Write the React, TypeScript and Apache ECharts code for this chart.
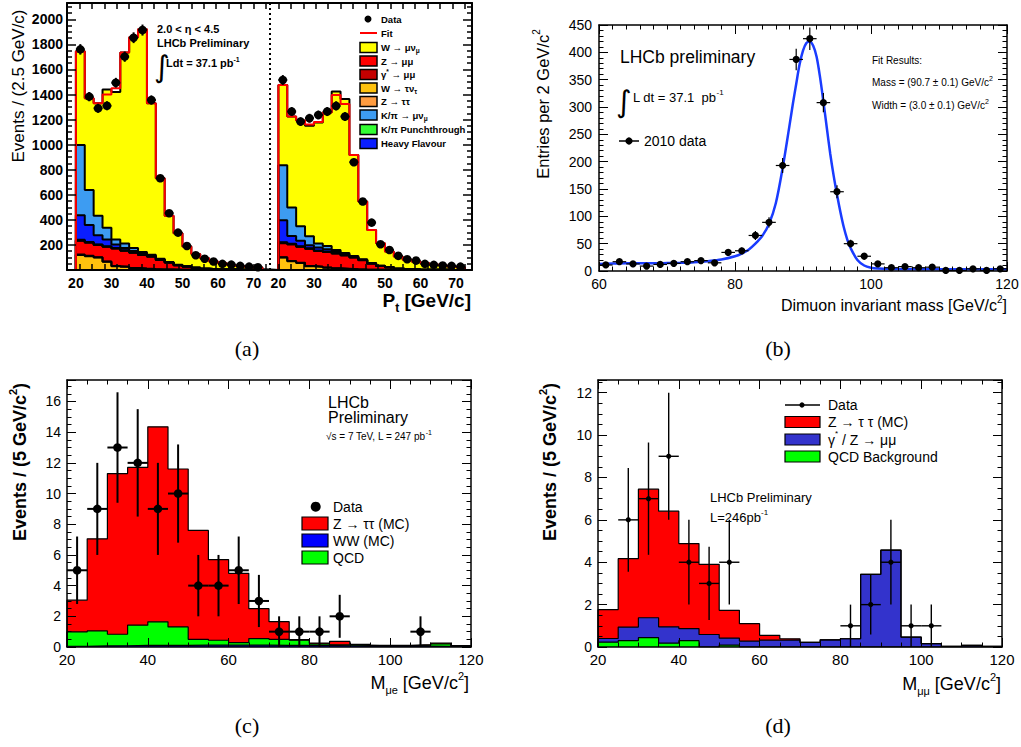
import React, { useEffect, useRef } from "react";
import * as echarts from "echarts";

const SANS = "'Liberation Sans', Arial, Helvetica, sans-serif";
const SERIF = "'Liberation Serif', 'Times New Roman', serif";

// ---------------- Panel (a): muon Pt, two eta halves ----------------
const aBinLow = [20, 22.5, 25, 27.5, 30, 32.5, 35, 37.5, 40, 42.5, 45, 47.5, 50, 52.5, 55, 57.5, 60, 62.5, 65, 67.5, 70];
const aBinWidth = 2.5;
const aRightOffset = 57;
const aTickLabels = [20, 30, 40, 50, 60, 70];

const aLeftWtaunu = [120, 110, 100, 65, 30, 25, 15, 10, 6, 4, 3, 2, 1, 1, 0, 0, 0, 0, 0, 0, 0];
const aLeftZtautau = [3, 3, 2, 2, 2, 1, 1, 1, 1, 0, 0, 0, 0, 0, 0, 0, 0, 0, 0, 0, 0];
const aLeftZmumu = [110, 105, 98, 118, 140, 128, 122, 108, 100, 76, 56, 36, 26, 16, 9, 6, 4, 3, 2, 1, 1];
const aLeftGamma = [3, 3, 2, 2, 2, 2, 1, 1, 1, 1, 0, 0, 0, 0, 0, 0, 0, 0, 0, 0, 0];
const aLeftPunch = [6, 2, 1, 1, 0, 0, 0, 0, 0, 0, 0, 0, 0, 0, 0, 0, 0, 0, 0, 0, 0];
const aLeftHeavy = [195, 135, 75, 55, 30, 20, 12, 8, 5, 3, 2, 1, 1, 0, 0, 0, 0, 0, 0, 0, 0];
const aLeftKpi = [560, 280, 155, 95, 40, 35, 25, 15, 8, 5, 3, 2, 1, 1, 0, 0, 0, 0, 0, 0, 0];
const aLeftTotal = [1745, 1370, 1330, 1440, 1420, 1735, 1856, 1920, 1330, 732, 432, 293, 187, 128, 93, 67, 53, 40, 32, 25, 19];
const aLeftFit = [1745, 1370, 1330, 1400, 1450, 1735, 1856, 1920, 1330, 732, 432, 293, 187, 128, 93, 67, 53, 40, 32, 25, 19];
const aLeftData = [1760, 1383, 1290, 1310, 1494, 1702, 1853, 1914, 1356, 732, 453, 298, 192, 118, 90, 68, 49, 43, 33, 27, 22];
const aLeftErr = [42, 37, 36, 36, 39, 41, 43, 44, 37, 27, 21, 17, 14, 11, 9, 8, 7, 7, 6, 5, 5];

const aRightWtaunu = [100, 70, 55, 30, 25, 18, 12, 8, 5, 3, 2, 1, 1, 0, 0, 0, 0, 0, 0, 0, 0];
const aRightZtautau = [2, 2, 2, 1, 1, 1, 1, 1, 0, 0, 0, 0, 0, 0, 0, 0, 0, 0, 0, 0, 0];
const aRightZmumu = [112, 132, 128, 138, 126, 125, 118, 108, 95, 75, 50, 31, 20, 10, 5, 3, 2, 1, 1, 0, 0];
const aRightGamma = [3, 3, 2, 2, 2, 2, 2, 1, 1, 1, 0, 0, 0, 0, 0, 0, 0, 0, 0, 0, 0];
const aRightPunch = [5, 2, 1, 1, 0, 0, 0, 0, 0, 0, 0, 0, 0, 0, 0, 0, 0, 0, 0, 0, 0];
const aRightHeavy = [175, 62, 45, 25, 25, 20, 12, 8, 5, 3, 2, 1, 1, 0, 0, 0, 0, 0, 0, 0, 0];
const aRightKpi = [438, 228, 116, 72, 32, 25, 15, 10, 6, 4, 2, 1, 1, 0, 0, 0, 0, 0, 0, 0, 0];
const aRightTotal = [1476, 1224, 1192, 1150, 1176, 1256, 1423, 1365, 918, 546, 320, 213, 148, 108, 81, 68, 54, 41, 36, 28, 22];
const aRightFit = [1476, 1224, 1192, 1160, 1180, 1256, 1397, 1325, 918, 546, 320, 213, 148, 108, 81, 68, 54, 41, 36, 28, 22];
const aRightData = [1516, 1264, 1184, 1211, 1237, 1264, 1309, 1224, 860, 546, 378, 206, 160, 113, 86, 75, 49, 41, 36, 33, 27];
const aRightErr = [39, 36, 34, 35, 35, 36, 36, 35, 29, 23, 19, 14, 13, 11, 9, 9, 7, 6, 6, 6, 5];

const aLegendLabels = [
  "{n|W → μν}{sub|μ}",
  "{n|Z → μμ}",
  "{n|γ}{sup|*}{n| → μμ}",
  "{n|W → τν}{sub|τ}",
  "{n|Z → ττ}",
  "{n|K/π → μν}{sub|μ}",
  "{n|K/π Punchthrough}",
  "{n|Heavy Flavour}",
];
const aColors = {
  wmunu: "#ffff00",
  zmumu: "#ff0000",
  gamma: "#c40000",
  wtaunu: "#ffc20e",
  ztautau: "#ff9c40",
  kpi: "#3d9cf2",
  punch: "#33ff33",
  heavy: "#0a1eff",
};

// ---------------- Panel (b): dimuon mass ----------------
const bMass = [61, 63, 65, 67, 69, 71, 73, 75, 77, 79, 81, 83, 85, 87, 89, 91, 93, 95, 97, 99, 101, 103, 105, 107, 109, 111, 113, 115, 117, 119];
const bCounts = [11, 17, 13, 9, 12, 14, 17, 19, 15, 34, 37, 65, 89, 193, 387, 425, 308, 145, 50, 27, 13, 6, 8, 6, 7, 1, 1, 4, 1, 4];
const bErr = [3.3, 4.1, 3.6, 3, 3.5, 3.7, 4.1, 4.4, 3.9, 5.8, 6.1, 8.1, 9.4, 13.9, 19.7, 20.6, 17.5, 12, 7.1, 5.2, 3.6, 2.4, 2.8, 2.4, 2.6, 1, 1, 2, 1, 2];
const bFitMass = [60, 62, 64, 66, 68, 70, 72, 74, 76, 78, 80, 81, 82, 83, 84, 85, 86, 87, 88, 88.5, 89, 89.5, 90, 90.5, 91, 91.5, 92, 92.5, 93, 93.5, 94, 94.5, 95, 95.5, 96, 96.5, 97, 98, 99, 100, 101, 103, 106, 110, 115, 120];
const bFitVal = [13, 13.5, 14, 14, 14, 14.5, 15, 16, 18, 21, 27, 32, 39, 50, 64, 86, 124, 188, 265, 305, 342, 378, 403, 417, 420, 412, 392, 355, 310, 262, 215, 175, 140, 108, 80, 58, 42, 20, 10, 6, 4.5, 3.5, 3, 3, 3, 3];

// ---------------- Panel (c): M(mu e) ----------------
const cdBinLow = [20, 25, 30, 35, 40, 45, 50, 55, 60, 65, 70, 75, 80, 85, 90, 95, 100, 105, 110, 115];
const cdBinWidth = 5;
const cWW = [0.05, 0.07, 0.08, 0.1, 0.1, 0.1, 0.12, 0.12, 0.12, 0.12, 0.1, 0.1, 0.1, 0.08, 0.06, 0.06, 0.06, 0.06, 0.05, 0.05];
const cQCD = [0.93, 0.98, 0.75, 1.32, 1.54, 1.21, 0.38, 0.32, 0.17, 0.43, 0.4, 0.34, 0.1, 0.06, 0.05, 0.02, 0.02, 0.06, 0.16, 0.02];
const cZtt = [2.07, 6.0, 10.47, 10.28, 12.71, 10.29, 7.1, 5.26, 4.51, 1.95, 1.15, 0.04, 0.06, 0.23, 0.06, 0.03, 0.03, 0.03, 0.05, 0.02];
const cDataX = [22.5, 27.5, 32.5, 37.5, 42.5, 47.5, 52.5, 57.5, 62.5, 67.5, 72.5, 77.5, 82.5, 87.5, 107.5];
const cData = [5, 9, 13, 12, 9, 10, 4, 4, 5, 3, 1, 1, 1, 2, 1];
const cErr = [2.2, 3, 3.6, 3.5, 3, 3.2, 2, 2, 2.2, 1.7, 1, 1, 1, 1.4, 1];

// ---------------- Panel (d): M(mu mu) ----------------
const dQCD = [0.23, 0.3, 0.44, 0.18, 0.3, 0, 0.09, 0, 0, 0, 0, 0, 0, 0, 0, 0, 0, 0, 0, 0];
const dZmm = [0.17, 0.64, 0.94, 0.77, 0.57, 0.59, 0.33, 0.28, 0.32, 0.34, 0.22, 0.34, 0.39, 3.43, 4.57, 0.47, 0.16, 0.03, 0.08, 0.03];
const dZtt = [1.36, 3.23, 6.07, 5.46, 4.01, 3.31, 1.31, 0.82, 0.23, 0.05, 0, 0, 0, 0, 0, 0, 0, 0, 0, 0];
const dDataX = [27.5, 32.5, 37.5, 42.5, 47.5, 52.5, 82.5, 87.5, 92.5, 97.5, 102.5];
const dData = [6, 7, 9, 4, 3, 4, 1, 2, 4, 1, 1];
const dErr = [2.45, 2.65, 3, 2, 1.73, 2, 1, 1.41, 2, 1, 1];

// ---------------- helpers ----------------
function cum(...arrs: number[][]): number[] {
  return arrs[0].map((_, i) => arrs.reduce((s, a) => s + a[i], 0));
}

function aSteps(left: number[], right: number[]): number[][] {
  const lastL = aBinLow[aBinLow.length - 1] + aBinWidth;
  return [
    [aBinLow[0], 0],
    ...aBinLow.map((x, i) => [x, left[i]]),
    [lastL, 0],
    [aBinLow[0] + aRightOffset, 0],
    ...aBinLow.map((x, i) => [x + aRightOffset, right[i]]),
    [lastL + aRightOffset, 0],
  ];
}

function cdSteps(vals: number[]): number[][] {
  return [
    [cdBinLow[0], 0],
    ...cdBinLow.map((x, i) => [x, vals[i]]),
    [cdBinLow[cdBinLow.length - 1] + cdBinWidth, 0],
  ];
}

function histLine(xi: number, data: number[][], color: string, lw: number) {
  return {
    type: "line",
    xAxisIndex: xi,
    yAxisIndex: xi,
    data,
    step: "end",
    symbol: "none",
    showSymbol: false,
    silent: true,
    z: 2,
    lineStyle: { color: "#000", width: lw },
    areaStyle: { color, opacity: 1, origin: "start" },
  };
}

function errorSeries(xi: number, pts: number[][], hw: number, r: number, lw: number) {
  return {
    type: "custom",
    xAxisIndex: xi,
    yAxisIndex: xi,
    data: pts,
    encode: { x: 0, y: 1 },
    silent: true,
    z: 10,
    renderItem: (_p: any, api: any) => {
      const x = api.value(0);
      const y = api.value(1);
      const e = api.value(2);
      const c = api.coord([x, y]);
      const l = api.coord([x - hw, y]);
      const rt = api.coord([x + hw, y]);
      const t = api.coord([x, y + e]);
      const b = api.coord([x, Math.max(y - e, 0)]);
      const st = { stroke: "#000", lineWidth: lw };
      return {
        type: "group",
        children: [
          { type: "line", shape: { x1: l[0], y1: c[1], x2: rt[0], y2: c[1] }, style: st },
          { type: "line", shape: { x1: c[0], y1: t[1], x2: c[0], y2: b[1] }, style: st },
          { type: "circle", shape: { cx: c[0], cy: c[1], r }, style: { fill: "#000" } },
        ],
      };
    },
  };
}

function richStyle(size: number, weight = "normal", subSize?: number) {
  const base = { fontFamily: SANS, fontWeight: weight, fill: "#000" };
  const s = subSize ?? Math.round(size * 0.62);
  return {
    n: { ...base, fontSize: size, lineHeight: Math.round(size * 1.4) },
    sup: { ...base, fontSize: s, verticalAlign: "top" },
    sub: { ...base, fontSize: s, verticalAlign: "bottom" },
  };
}

function T(x: number, y: number, text: string, style: any = {}, extra: any = {}) {
  return {
    type: "text",
    x,
    y,
    z: 100,
    silent: true,
    ...extra,
    style: { text, fill: "#000", fontFamily: SANS, fontSize: 14, align: "left", verticalAlign: "middle", ...style },
  };
}

function RT(x: number, y: number, text: string, size: number, weight = "normal", align = "left", rotation = 0, subSize?: number) {
  return {
    type: "text",
    x,
    y,
    z: 100,
    silent: true,
    rotation,
    style: {
      text,
      rich: richStyle(size, weight, subSize),
      fontFamily: SANS,
      fontSize: size,
      fontWeight: weight,
      fill: "#000",
      align,
      verticalAlign: "middle",
    },
  };
}

function box(x: number, y: number, w: number, h: number, fill: string, lw = 1.2) {
  return { type: "rect", z: 100, silent: true, shape: { x, y, width: w, height: h }, style: { fill, stroke: "#000", lineWidth: lw } };
}

const plainNum = (v: number) => String(v);

function xAx(grid: number, pos: "bottom" | "top", min: number, max: number, interval: number, lw: number, label: any, tick: any, minor?: any) {
  return {
    type: "value",
    gridIndex: grid,
    position: pos,
    min,
    max,
    interval,
    z: 10,
    axisLine: { show: true, onZero: false, lineStyle: { color: "#000", width: lw } },
    axisTick: { show: true, inside: true, ...tick },
    minorTick: minor ? { show: true, ...minor } : { show: false },
    axisLabel: pos === "bottom" ? { show: true, color: "#000", fontFamily: SANS, formatter: plainNum, ...label } : { show: false },
    splitLine: { show: false },
    minorSplitLine: { show: false },
  };
}

function yAx(grid: number, pos: "left" | "right", min: number, max: number, interval: number, lw: number, label: any, tick: any, minor?: any) {
  return {
    type: "value",
    gridIndex: grid,
    position: pos,
    min,
    max,
    interval,
    z: 10,
    axisLine: { show: true, onZero: false, lineStyle: { color: "#000", width: lw } },
    axisTick: { show: true, inside: true, ...tick },
    minorTick: minor ? { show: true, ...minor } : { show: false },
    axisLabel: pos === "left" ? { show: true, color: "#000", fontFamily: SANS, formatter: plainNum, ...label } : { show: false },
    splitLine: { show: false },
    minorSplitLine: { show: false },
  };
}

function buildOption() {
  // ----- panel (a) cumulative layers (bottom to top) -----
  const aL = [aLeftWtaunu, aLeftZtautau, aLeftZmumu, aLeftGamma, aLeftPunch, aLeftHeavy, aLeftKpi];
  const aR = [aRightWtaunu, aRightZtautau, aRightZmumu, aRightGamma, aRightPunch, aRightHeavy, aRightKpi];
  const aLayerColors = [aColors.wtaunu, aColors.ztautau, aColors.zmumu, aColors.gamma, aColors.punch, aColors.heavy, aColors.kpi];
  const aCumSeries: any[] = [histLine(0, aSteps(aLeftTotal, aRightTotal), aColors.wmunu, 2)];
  for (let k = aL.length - 1; k >= 0; k--) {
    const left = cum(...aL.slice(0, k + 1));
    const right = cum(...aR.slice(0, k + 1));
    aCumSeries.push(histLine(0, aSteps(left, right), aLayerColors[k], 2));
  }
  const lastL = aBinLow[aBinLow.length - 1] + aBinWidth;
  const aFitData = [
    [17.5, 0],
    ...aBinLow.map((x, i) => [x, aLeftFit[i]]),
    [lastL, 0],
    ...aBinLow.map((x, i) => [x + aRightOffset, aRightFit[i]]),
    [lastL + aRightOffset, 0],
    [131.5, 0],
  ];
  const aDataPts = [
    ...aBinLow.map((x, i) => [x + aBinWidth / 2, aLeftData[i], aLeftErr[i]]),
    ...aBinLow.map((x, i) => [x + aBinWidth / 2 + aRightOffset, aRightData[i], aRightErr[i]]),
  ];

  // ----- panel (c) -----
  const c1 = cWW;
  const c2 = cum(cWW, cQCD);
  const c3 = cum(cWW, cQCD, cZtt);
  // ----- panel (d) -----
  const d1 = dQCD;
  const d2 = cum(dQCD, dZmm);
  const d3 = cum(dQCD, dZmm, dZtt);

  const aLabelVals = [...aTickLabels, ...aTickLabels.map((v) => v + aRightOffset)];

  const aLblStyle = { fontWeight: "bold", fontSize: 14 };
  const bLbl = { fontSize: 14 };
  const cdLblX = { fontSize: 15, margin: 5 };
  const cdLblY = { fontSize: 14, margin: 6, showMaxLabel: false };

  const series: any[] = [
    ...aCumSeries,
    {
      type: "line",
      xAxisIndex: 0,
      yAxisIndex: 0,
      data: aFitData,
      step: "end",
      symbol: "none",
      showSymbol: false,
      silent: true,
      z: 5,
      lineStyle: { color: "#ff0000", width: 2 },
      markLine: {
        symbol: "none",
        silent: true,
        label: { show: false },
        lineStyle: { type: [2, 3], color: "#000", width: 2 },
        data: [{ xAxis: 74.5 }],
      },
    },
    errorSeries(0, aDataPts, aBinWidth / 2, 4.3, 2),

    {
      type: "line",
      xAxisIndex: 2,
      yAxisIndex: 2,
      data: bFitMass.map((m, i) => [m, bFitVal[i]]),
      smooth: 0.3,
      symbol: "none",
      showSymbol: false,
      silent: true,
      z: 5,
      lineStyle: { color: "#1a3cff", width: 2.5 },
    },
    errorSeries(2, bMass.map((m, i) => [m, bCounts[i], bErr[i]]), 1, 3.6, 1.2),

    histLine(4, cdSteps(c3), "#ff0000", 1.2),
    histLine(4, cdSteps(c2), "#00ff00", 1.2),
    histLine(4, cdSteps(c1), "#0000ff", 1.2),
    errorSeries(4, cDataX.map((x, i) => [x, cData[i], cErr[i]]), cdBinWidth / 2, 4.3, 2),

    histLine(6, cdSteps(d3), "#ff0000", 1.2),
    histLine(6, cdSteps(d2), "#3333cc", 1.2),
    histLine(6, cdSteps(d1), "#00ff00", 1.2),
    errorSeries(6, dDataX.map((x, i) => [x, dData[i], dErr[i]]), cdBinWidth / 2, 2.6, 1.4),
  ];

  const aLegendColors = [aColors.wmunu, aColors.zmumu, aColors.gamma, aColors.wtaunu, aColors.ztautau, aColors.kpi, aColors.punch, aColors.heavy];
  const aLegendY = [47.5, 61, 74.5, 88, 101.5, 115, 129.5, 143.5];

  const graphics: any[] = [
    // ---- panel (a) annotations ----
    T(157, 29, "2.0 < η < 4.5", { fontWeight: "bold", fontSize: 11 }),
    T(157, 43, "LHCb Preliminary", { fontWeight: "bold", fontSize: 11 }),
    T(154, 66, "∫", { fontSize: 30, fontFamily: "'DejaVu Sans', sans-serif" }),
    RT(166, 63, "{n|Ldt = 37.1 pb}{sup|-1}", 11, "bold", "left", 0, 7),
    { type: "circle", z: 100, silent: true, shape: { cx: 368, cy: 19, r: 3.5 }, style: { fill: "#000" } },
    T(381, 19.5, "Data", { fontWeight: "bold", fontSize: 9.5 }),
    { type: "line", z: 100, silent: true, shape: { x1: 360, y1: 33, x2: 377, y2: 33 }, style: { stroke: "#ff0000", lineWidth: 2 } },
    T(381, 33, "Fit", { fontWeight: "bold", fontSize: 9.5 }),
    ...aLegendLabels.flatMap((lab, i) => [
      box(360, aLegendY[i] - 5, 17, 10, aLegendColors[i], 1.5),
      RT(381, aLegendY[i], lab, 9.5, "bold", "left", 0, 6.5),
    ]),
    T(18, 86, "Events / (2.5 GeV/c)", { fontSize: 17, align: "center" }, { rotation: Math.PI / 2 }),
    RT(471, 300, "{n|P}{sub|t}{n| [GeV/c]}", 19, "bold", "right", 0, 12),

    // ---- panel (b) annotations ----
    T(620, 57, "LHCb preliminary", { fontSize: 17.5 }),
    T(616, 101, "∫", { fontSize: 30, fontFamily: "'DejaVu Sans', sans-serif" }),
    RT(633, 97, "{n|L dt = 37.1  pb}{sup|-1}", 13, "normal", "left", 0, 8),
    T(872, 60, "Fit Results:", { fontSize: 10 }),
    RT(872, 82, "{n|Mass = (90.7 ± 0.1) GeV/c}{sup|2}", 10, "normal", "left", 0, 7),
    RT(872, 105, "{n|Width = (3.0 ± 0.1) GeV/c}{sup|2}", 10, "normal", "left", 0, 7),
    { type: "line", z: 100, silent: true, shape: { x1: 619, y1: 141, x2: 639, y2: 141 }, style: { stroke: "#000", lineWidth: 1.5 } },
    { type: "circle", z: 100, silent: true, shape: { cx: 629, cy: 141, r: 3.6 }, style: { fill: "#000" } },
    T(644, 141, "2010 data", { fontSize: 14 }),
    RT(543, 104, "{n|Entries per 2 GeV/c}{sup|2}", 16.5, "normal", "center", Math.PI / 2, 10),
    RT(1007, 305, "{n|Dimuon invariant mass [GeV/c}{sup|2}{n|]}", 16, "normal", "right", 0, 10),

    // ---- panel (c) annotations ----
    T(328, 402, "LHCb", { fontSize: 16 }),
    T(328, 417, "Preliminary", { fontSize: 16 }),
    RT(326, 436, "{n|√s = 7 TeV, L = 247 pb}{sup|-1}", 10, "normal", "left", 0, 7),
    { type: "circle", z: 100, silent: true, shape: { cx: 315.7, cy: 506.7, r: 5 }, style: { fill: "#000" } },
    T(333, 507, "Data", { fontSize: 14 }),
    box(302, 517, 26, 13, "#ff0000"),
    T(333, 523.5, "Z → ττ (MC)", { fontSize: 14 }),
    box(302, 534, 26, 13, "#0000ff"),
    T(333, 540.5, "WW (MC)", { fontSize: 14 }),
    box(302, 551, 26, 13, "#00ff00"),
    T(333, 557.5, "QCD", { fontSize: 14 }),
    RT(20, 462, "{n|Events / (5 GeV/c}{sup|2}{n|)}", 18, "bold", "center", Math.PI / 2, 11),
    RT(469, 683, "{n|M}{sub|μe}{n| [GeV/c}{sup|2}{n|]}", 18, "normal", "right", 0, 11),

    // ---- panel (d) annotations ----
    T(710, 497, "LHCb Preliminary", { fontSize: 13 }),
    RT(710, 517, "{n|L=246pb}{sup|-1}", 13, "normal", "left", 0, 8),
    { type: "line", z: 100, silent: true, shape: { x1: 785, y1: 405, x2: 820, y2: 405 }, style: { stroke: "#000", lineWidth: 1.3 } },
    { type: "circle", z: 100, silent: true, shape: { cx: 802, cy: 405, r: 2.6 }, style: { fill: "#000" } },
    T(828, 405, "Data", { fontSize: 14 }),
    box(785, 416.5, 35, 11, "#ff0000"),
    T(828, 422, "Z → τ τ (MC)", { fontSize: 14 }),
    box(785, 434, 35, 11, "#3333cc"),
    RT(828, 439.5, "{n|γ}{sup|*}{n| / Z → μμ}", 14, "normal", "left", 0, 8),
    box(785, 451, 35, 11, "#00ff00"),
    T(828, 456.5, "QCD Background", { fontSize: 14 }),
    RT(550, 462, "{n|Events / (5 GeV/c}{sup|2}{n|)}", 18, "bold", "center", Math.PI / 2, 11),
    RT(1001, 684, "{n|M}{sub|μμ}{n| [GeV/c}{sup|2}{n|]}", 18, "normal", "right", 0, 11),

    // ---- captions ----
    T(247, 348, "(a)", { fontFamily: SERIF, fontSize: 22, align: "center" }),
    T(778, 348, "(b)", { fontFamily: SERIF, fontSize: 22, align: "center" }),
    T(247, 725, "(c)", { fontFamily: SERIF, fontSize: 22, align: "center" }),
    T(778, 725, "(d)", { fontFamily: SERIF, fontSize: 22, align: "center" }),
  ];

  const aTick = { length: 6, lineStyle: { color: "#000", width: 1.5 } };
  const aYTick = { length: 9, lineStyle: { color: "#000", width: 1.5 } };
  const aYMinor = { splitNumber: 4, length: 5, lineStyle: { color: "#000", width: 1.5 } };
  const stdTick = { length: 9, lineStyle: { color: "#000", width: 1 } };
  const bXMinor = { splitNumber: 10, length: 4.5, lineStyle: { color: "#000", width: 1 } };
  const bYMinor = { splitNumber: 5, length: 4.5, lineStyle: { color: "#000", width: 1 } };
  const cdMinor = { splitNumber: 4, length: 4.5, lineStyle: { color: "#000", width: 1 } };

  const aXLabel = {
    ...aLblStyle,
    margin: 6,
    customValues: aLabelVals,
    formatter: (v: number) => String(v > 74.5 ? v - aRightOffset : v),
  };

  return {
    animation: false,
    backgroundColor: "#ffffff",
    grid: [
      { left: 67, top: 3, width: 405, height: 267, outerBoundsMode: "none" },
      { left: 599, top: 25, width: 408, height: 246, outerBoundsMode: "none" },
      { left: 67, top: 380, width: 404, height: 267, outerBoundsMode: "none" },
      { left: 598, top: 380, width: 404, height: 267, outerBoundsMode: "none" },
    ],
    xAxis: [
      xAx(0, "bottom", 17.5, 131.5, 3.5, 2, aXLabel, aTick),
      xAx(0, "top", 17.5, 131.5, 3.5, 2, {}, aTick),
      xAx(1, "bottom", 60, 120, 20, 1.5, { ...bLbl, margin: 6 }, stdTick, bXMinor),
      xAx(1, "top", 60, 120, 20, 1.5, {}, stdTick, bXMinor),
      xAx(2, "bottom", 20, 120, 20, 1.5, cdLblX, stdTick, cdMinor),
      xAx(2, "top", 20, 120, 20, 1.5, {}, stdTick, cdMinor),
      xAx(3, "bottom", 20, 120, 20, 1.5, cdLblX, stdTick, cdMinor),
      xAx(3, "top", 20, 120, 20, 1.5, {}, stdTick, cdMinor),
    ],
    yAxis: [
      yAx(0, "left", 0, 2130, 200, 2, { ...aLblStyle, margin: 4, showMinLabel: false, showMaxLabel: false }, aYTick, aYMinor),
      yAx(0, "right", 0, 2130, 200, 2, {}, aYTick, aYMinor),
      yAx(1, "left", 0, 450, 50, 1.5, { ...bLbl, margin: 7 }, stdTick, bYMinor),
      yAx(1, "right", 0, 450, 50, 1.5, {}, stdTick, bYMinor),
      yAx(2, "left", 0, 17.4, 2, 1.5, cdLblY, stdTick, cdMinor),
      yAx(2, "right", 0, 17.4, 2, 1.5, {}, stdTick, cdMinor),
      yAx(3, "left", 0, 12.6, 2, 1.5, cdLblY, stdTick, cdMinor),
      yAx(3, "right", 0, 12.6, 2, 1.5, {}, stdTick, cdMinor),
    ],
    series,
    graphic: { elements: graphics },
  };
}

export default function App() {
  const ref = useRef<HTMLDivElement>(null);
  useEffect(() => {
    if (!ref.current) return;
    const chart = echarts.init(ref.current, null, { renderer: "svg" });
    chart.setOption(buildOption() as any);
    return () => chart.dispose();
  }, []);
  return (
    <div
      ref={ref}
      style={{ position: "absolute", left: 0, top: 0, width: 1021, height: 747, background: "#fff" }}
    />
  );
}
